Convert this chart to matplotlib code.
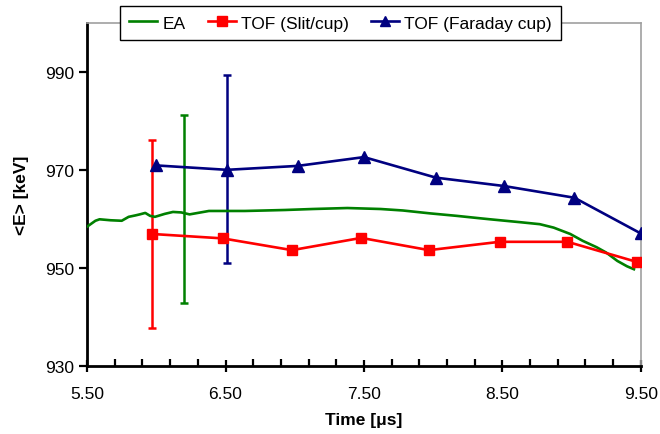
"""
Beam energy vs. time: EA curve and two TOF series with error bars
"""

import matplotlib
matplotlib.use('Agg')
import matplotlib.pyplot as plt
from matplotlib.ticker import MultipleLocator, FormatStrFormatter

plt.rcParams['font.family'] = ['Liberation Sans', 'DejaVu Sans']

# EA (electrostatic analyser) trace
ea_t = [5.50, 5.52, 5.56, 5.59, 5.67, 5.75, 5.80, 5.85, 5.88, 5.92, 5.955,
        5.99, 6.06, 6.12, 6.18, 6.24, 6.30, 6.38, 6.50, 6.64, 6.79, 6.93,
        7.13, 7.38, 7.62, 7.78, 7.98, 8.17, 8.34, 8.41, 8.63, 8.77, 8.87,
        8.99, 9.08, 9.18, 9.25, 9.33, 9.40, 9.45]
ea_e = [958.4, 958.8, 959.6, 959.9, 959.7, 959.6, 960.4, 960.7, 960.9, 961.2,
        960.6, 960.4, 961.0, 961.4, 961.3, 960.9, 961.2, 961.6, 961.6, 961.6,
        961.7, 961.8, 962.0, 962.2, 962.0, 961.7, 961.1, 960.6, 960.1, 959.9,
        959.3, 958.9, 958.2, 956.9, 955.5, 954.2, 953.1, 951.4, 950.3, 949.7]

# TOF with slit/cup
slit_t = [5.97, 6.48, 6.98, 7.48, 7.97, 8.48, 8.97, 9.47]
slit_e = [956.9, 956.0, 953.6, 956.1, 953.6, 955.3, 955.3, 951.2]

# TOF with Faraday cup
fc_t = [6.00, 6.51, 7.02, 7.50, 8.02, 8.51, 9.02, 9.50]
fc_e = [970.9, 970.0, 970.8, 972.6, 968.4, 966.7, 964.3, 957.0]

# single representative error bars
err_t = {'slit': 5.97, 'ea': 6.20, 'fc': 6.51}
err_e = {'slit': 956.9, 'ea': 962.0, 'fc': 970.1}
err_size = 19.2

C_EA = '#008000'
C_SLIT = '#ff0000'
C_FC = '#000080'

fig = plt.figure(figsize=(6.6, 4.35), dpi=100)
fig.patch.set_facecolor('white')
ax = fig.add_axes([0.132, 0.157, 0.839, 0.788])

ax.plot(ea_t, ea_e, color=C_EA, lw=1.9, label='EA', zorder=3)
ax.plot(slit_t, slit_e, color=C_SLIT, lw=1.9, marker='s', ms=7.5,
        label='TOF (Slit/cup)', zorder=4)
ax.plot(fc_t, fc_e, color=C_FC, lw=1.9, marker='^', ms=8,
        label='TOF (Faraday cup)', zorder=4)

for key, col in (('slit', C_SLIT), ('ea', C_EA), ('fc', C_FC)):
    ax.errorbar(err_t[key], err_e[key], yerr=err_size, fmt='none',
                ecolor=col, elinewidth=1.8, capsize=3, capthick=1.8, zorder=2)

ax.set_xlim(5.5, 9.5)
ax.set_ylim(930, 1000)
ax.xaxis.set_major_locator(MultipleLocator(1.0, offset=0.5))
ax.xaxis.set_minor_locator(MultipleLocator(0.2, offset=0.1))
ax.xaxis.set_major_formatter(FormatStrFormatter('%.2f'))
ax.set_yticks([930, 950, 970, 990])

ax.tick_params(axis='x', which='major', direction='inout', length=9,
               width=1.6, labelsize=12.5, pad=10)
ax.tick_params(axis='x', which='minor', direction='in', length=5, width=1.6)
ax.tick_params(axis='y', which='major', direction='out', length=6,
               width=1.6, labelsize=12.5, pad=3)

for s in ('left', 'bottom'):
    ax.spines[s].set_color('black')
    ax.spines[s].set_linewidth(2)
for s in ('top', 'right'):
    ax.spines[s].set_color('#a0a0a0')
    ax.spines[s].set_linewidth(1.2)

ax.set_xlabel('Time [\u03bcs]', fontsize=12.5, fontweight='bold', labelpad=8)
ax.set_ylabel('<E> [keV]', fontsize=12.5, fontweight='bold', labelpad=12)

leg = ax.legend(loc='center', bbox_to_anchor=(0.4576, 1.0), ncol=3,
                fontsize=12.5, frameon=True, fancybox=False, framealpha=1,
                edgecolor='black', handlelength=1.6, handletextpad=0.3,
                columnspacing=1.3, borderpad=0.55, markerscale=0.9)
leg.get_frame().set_linewidth(1.0)
leg.set_zorder(10)

fig.savefig('out.png', dpi=100, facecolor='white')
